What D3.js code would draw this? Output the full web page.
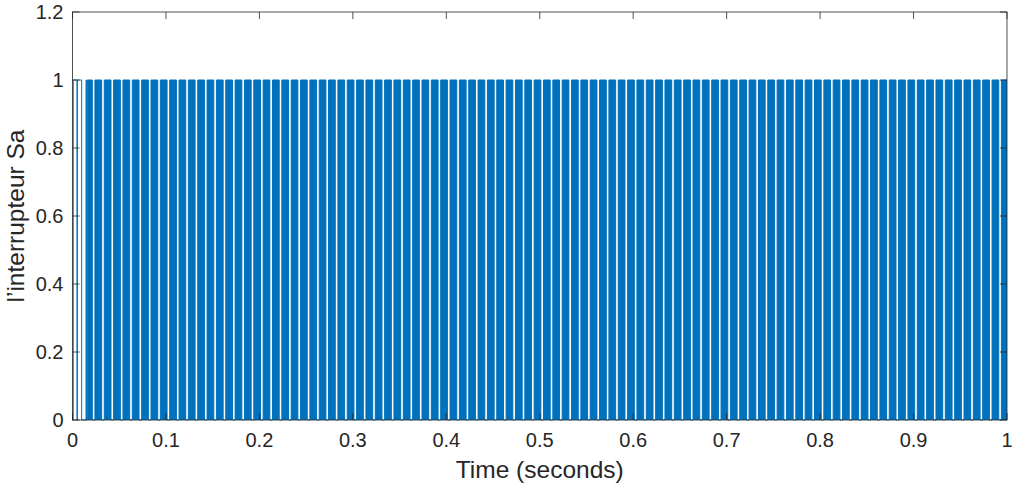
<!DOCTYPE html>
<html><head><meta charset="utf-8">
<script src="https://cdn.jsdelivr.net/npm/d3@7"></script>
<style>body{margin:0;background:#fff}svg{display:block}text{font-family:"Liberation Sans",Arial,sans-serif;fill:#262626}</style>
</head><body><svg id="c" width="1014" height="489"></svg>
<script>
// ---- data ----
const xTicks = [0,0.1,0.2,0.3,0.4,0.5,0.6,0.7,0.8,0.9,1];
const xTickLabels = ["0","0.1","0.2","0.3","0.4","0.5","0.6","0.7","0.8","0.9","1"];
const yTicks = [0,0.2,0.4,0.6,0.8,1,1.2];
const yTickLabels = ["0","0.2","0.4","0.6","0.8","1","1.2"];
// start-up: isolated narrow pulses (time, level) as step series
const startT = [0, 0.0008, 0.0048, 0.0052, 0.0098, 0.0145, 0.0150];
const startV = [0, 1, 0, 1, 0, 1, 0];
// switching region: 0 -> 1 at firstOn, then off-gaps (start times) of gapWidth
const firstOn = 0.0158;
const gapStarts = [0.0212,0.0312,0.0412,0.0512,0.0612,0.0712,0.0812,0.0912,0.1012,0.1112,
0.1212,0.1312,0.1412,0.1512,0.1612,0.1712,0.1812,0.1912,0.2012,0.2112,
0.2212,0.2312,0.2412,0.2512,0.2612,0.2712,0.2812,0.2912,0.3012,0.3112,
0.3212,0.3312,0.3412,0.3512,0.3612,0.3712,0.3812,0.3912,0.4012,0.4112,
0.4212,0.4312,0.4412,0.4512,0.4612,0.4712,0.4812,0.4912,0.5012,0.5112,
0.5212,0.5312,0.5412,0.5512,0.5612,0.5712,0.5812,0.5912,0.6012,0.6112,
0.6212,0.6312,0.6412,0.6512,0.6612,0.6712,0.6812,0.6912,0.7012,0.7112,
0.7212,0.7312,0.7412,0.7512,0.7612,0.7712,0.7812,0.7912,0.8012,0.8112,
0.8212,0.8312,0.8412,0.8512,0.8612,0.8712,0.8812,0.8912,0.9012,0.9112,
0.9212,0.9312,0.9412,0.9512,0.9612,0.9712,0.9812,0.9912];
const gapWidths = gapStarts.map(()=>0.0028);
const tEnd = 1;

// ---- layout ----
const W=1014,H=489, m={l:72.5,t:12,r:7,b:69};
const svg=d3.select("#c");
const x=d3.scaleLinear().domain([0,1]).range([m.l,W-m.r]);
const y=d3.scaleLinear().domain([0,1.2]).range([H-m.b,m.t]);
const col="#0072BD";

// build blocks
const blocks=[];
let s=firstOn;
gapStarts.forEach((g,i)=>{blocks.push([s,g]); s=g+gapWidths[i];});
blocks.push([s,tEnd]);

const g=svg.append("g");
g.selectAll("rect.b").data(blocks).join("rect")
 .attr("x",d=>x(d[0])).attr("width",d=>x(d[1])-x(d[0]))
 .attr("y",y(1)).attr("height",y(0)-y(1)).attr("fill",col);

// step outline: start-up pulses + blocks
const pts=startT.map((t,i)=>[t,startV[i]]);
pts.push([firstOn,1]);
gapStarts.forEach((gs,i)=>{pts.push([gs,0]);pts.push([gs+gapWidths[i],1]);});
pts.push([tEnd,1]);
const line=d3.line().x(d=>x(d[0])).y(d=>y(d[1])).curve(d3.curveStepAfter);
g.append("path").attr("d",line(pts)).attr("fill","none").attr("stroke",col).attr("stroke-width",1);

// axes box
const ax="#262626";
svg.append("rect").attr("x",x(0)).attr("y",y(1.2)).attr("width",x(1)-x(0)).attr("height",y(0)-y(1.2))
 .attr("fill","none").attr("stroke",ax).attr("stroke-width",0.8);
const tl=7;
svg.append("g").selectAll("line").data(xTicks).join("line")
 .attr("x1",d=>x(d)).attr("x2",d=>x(d)).attr("y1",y(0)).attr("y2",y(0)-tl).attr("stroke",ax).attr("stroke-width",0.8);
svg.append("g").selectAll("line").data(xTicks).join("line")
 .attr("x1",d=>x(d)).attr("x2",d=>x(d)).attr("y1",y(1.2)).attr("y2",y(1.2)+tl).attr("stroke",ax).attr("stroke-width",0.8);
svg.append("g").selectAll("line").data(yTicks).join("line")
 .attr("x1",x(0)).attr("x2",x(0)+tl).attr("y1",d=>y(d)).attr("y2",d=>y(d)).attr("stroke",ax).attr("stroke-width",0.8);
svg.append("g").selectAll("line").data(yTicks).join("line")
 .attr("x1",x(1)).attr("x2",x(1)-tl).attr("y1",d=>y(d)).attr("y2",d=>y(d)).attr("stroke",ax).attr("stroke-width",0.8);

svg.append("g").selectAll("text").data(xTicks).join("text")
 .attr("x",d=>x(d)).attr("y",y(0)+27).attr("text-anchor","middle").attr("font-size",20)
 .text((d,i)=>xTickLabels[i]);
svg.append("g").selectAll("text").data(yTicks).join("text")
 .attr("x",x(0)-9).attr("y",d=>y(d)+7).attr("text-anchor","end").attr("font-size",20)
 .text((d,i)=>yTickLabels[i]);

svg.append("text").attr("x",(x(0)+x(1))/2).attr("y",478).attr("text-anchor","middle").attr("font-size",24.5).text("Time (seconds)");
svg.append("text").attr("transform",`translate(24,${(y(0)+y(1.2))/2}) rotate(-90)`).attr("text-anchor","middle").attr("font-size",24.5).text("l’interrupteur Sa");
</script></body></html>
